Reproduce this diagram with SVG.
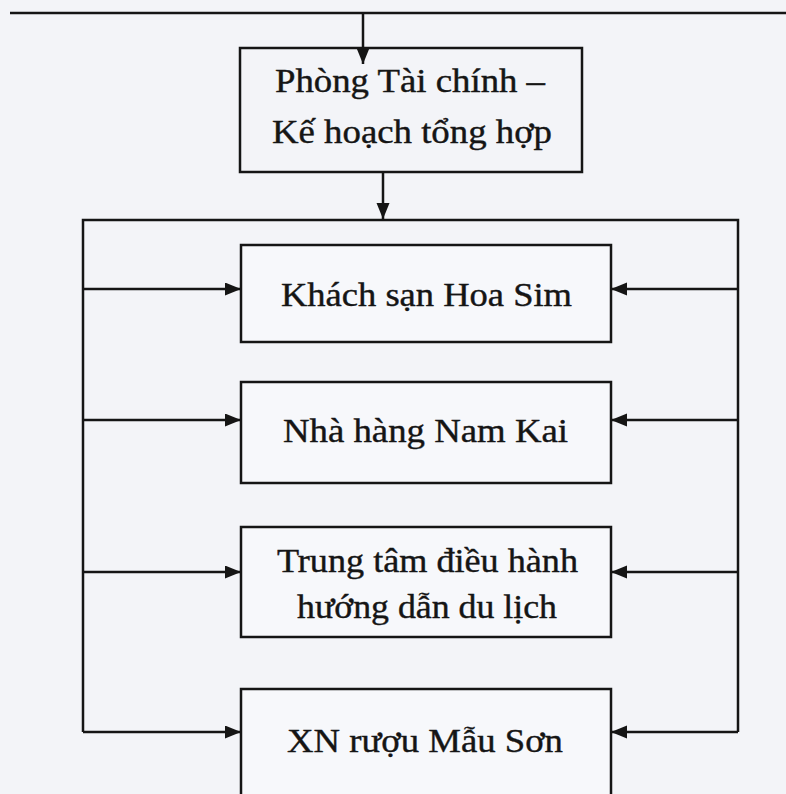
<svg xmlns="http://www.w3.org/2000/svg" width="786" height="794" viewBox="0 0 786 794">
<style>
.bg{fill:#f3f4f8}
.box{fill:#f7f8fb;stroke:#151515;stroke-width:2.5}
.ln{fill:none;stroke:#151515;stroke-width:2.5}
.t{font-family:"Liberation Serif","Times New Roman",serif;font-size:33px;fill:#151515;stroke:#151515;stroke-width:0.4;text-anchor:middle}
</style>
<defs>
<marker id="ah" markerUnits="userSpaceOnUse" markerWidth="17" markerHeight="14" refX="16" refY="6.5" orient="auto">
<path d="M0,0 L16,6.5 L0,13 z" fill="#151515"/>
</marker>
</defs>
<rect class="bg" x="0" y="0" width="786" height="794"/>
<g id="connectors">
<path class="ln" d="M10,13 H786"/>
<path class="ln" d="M363,13 V64" marker-end="url(#ah)"/>
<path class="ln" d="M383,173 V219" marker-end="url(#ah)"/>
<path class="ln" d="M83,732 V220 H738 V732"/>
<path class="ln" d="M83,289 H241" marker-end="url(#ah)"/>
<path class="ln" d="M83,420 H241" marker-end="url(#ah)"/>
<path class="ln" d="M83,572 H241" marker-end="url(#ah)"/>
<path class="ln" d="M83,732 H241" marker-end="url(#ah)"/>
<path class="ln" d="M738,289 H611" marker-end="url(#ah)"/>
<path class="ln" d="M738,420 H611" marker-end="url(#ah)"/>
<path class="ln" d="M738,572 H611" marker-end="url(#ah)"/>
<path class="ln" d="M738,732 H611" marker-end="url(#ah)"/>
</g>
<g id="phong-tai-chinh">
<rect class="box" x="240" y="48" width="342" height="124" style="fill:none"/>
<text class="t" x="410" y="92" textLength="270" lengthAdjust="spacingAndGlyphs">Phòng Tài chính –</text>
<text class="t" x="412" y="143" textLength="280" lengthAdjust="spacingAndGlyphs">Kế hoạch tổng hợp</text>
</g>
<g id="khach-san">
<rect class="box" x="241" y="245" width="370" height="97"/>
<text class="t" x="426.5" y="306" textLength="291" lengthAdjust="spacingAndGlyphs">Khách sạn Hoa Sim</text>
</g>
<g id="nha-hang">
<rect class="box" x="241" y="382" width="370" height="101"/>
<text class="t" x="425.5" y="442" textLength="285" lengthAdjust="spacingAndGlyphs">Nhà hàng Nam Kai</text>
</g>
<g id="trung-tam">
<rect class="box" x="241" y="527" width="370" height="110"/>
<text class="t" x="427.5" y="572" textLength="301" lengthAdjust="spacingAndGlyphs">Trung tâm điều hành</text>
<text class="t" x="427" y="618" textLength="260" lengthAdjust="spacingAndGlyphs">hướng dẫn du lịch</text>
</g>
<g id="xn-ruou">
<rect class="box" x="241" y="689" width="370" height="120"/>
<text class="t" x="425" y="752" textLength="276" lengthAdjust="spacingAndGlyphs">XN rượu Mẫu Sơn</text>
</g>
</svg>
